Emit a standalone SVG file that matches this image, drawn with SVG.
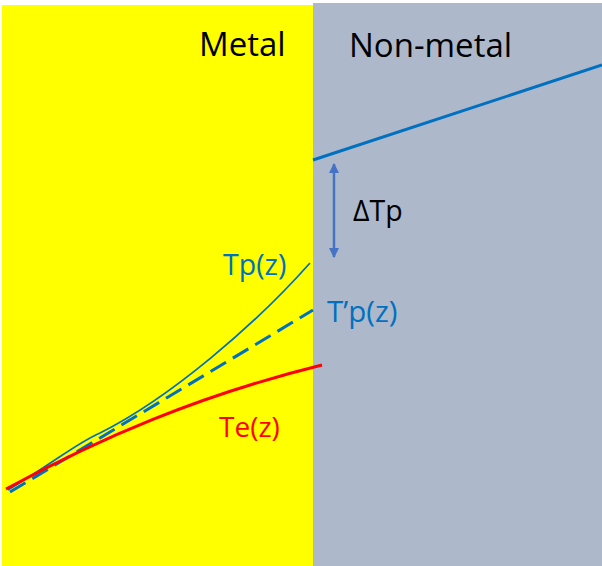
<svg xmlns="http://www.w3.org/2000/svg" width="602" height="566" viewBox="0 0 602 566">
<defs>
<style>
.lbl{font-family:"Open Sans","Liberation Sans",sans-serif;}
</style>
<marker id="ah" viewBox="0 0 10 10" refX="9" refY="5" markerWidth="4" markerHeight="4" orient="auto-start-reverse">
<path d="M0,0 L10,5 L0,10 z" fill="#4472C4"/>
</marker>
</defs>
<rect width="602" height="566" fill="#ffffff"/>
<g id="metal">
<rect x="2" y="5" width="311" height="561" fill="#FFFF00"/>
<text class="lbl" x="199" y="56" font-size="33" fill="#000">Metal</text>
</g>
<g id="nonmetal">
<rect x="313" y="3" width="289" height="563" fill="#ADB9CA"/>
<text class="lbl" x="349" y="57" font-size="33" fill="#000">Non-metal</text>
</g>
<g id="connectors" fill="none">
<path d="M313,160 L602,65" stroke="#0070C0" stroke-width="3"/>
<path d="M334,164 L334,257" stroke="#4472C4" stroke-width="2.5" marker-start="url(#ah)" marker-end="url(#ah)"/>
<path d="M8,490 C55,462 75,444 100,433 C170,398 255,325 310,263" stroke="#0070C0" stroke-width="1.8"/>
<path d="M10,492 L313,310" stroke="#0070C0" stroke-width="3" stroke-dasharray="18,8"/>
<path d="M6,489 C100,438 200,395 322,365" stroke="#FF0000" stroke-width="3"/>
</g>
<g id="labels">
<text class="lbl" x="353" y="221" font-size="28.5" fill="#000">ΔTp</text>
<text class="lbl" x="223" y="275" font-size="28.5" fill="#0070C0">Tp(z)</text>
<text class="lbl" x="327" y="322" font-size="29.5" fill="#0070C0">T’p(z)</text>
<text class="lbl" x="219" y="437" font-size="28" fill="#FF0000">Te(z)</text>
</g>
</svg>
